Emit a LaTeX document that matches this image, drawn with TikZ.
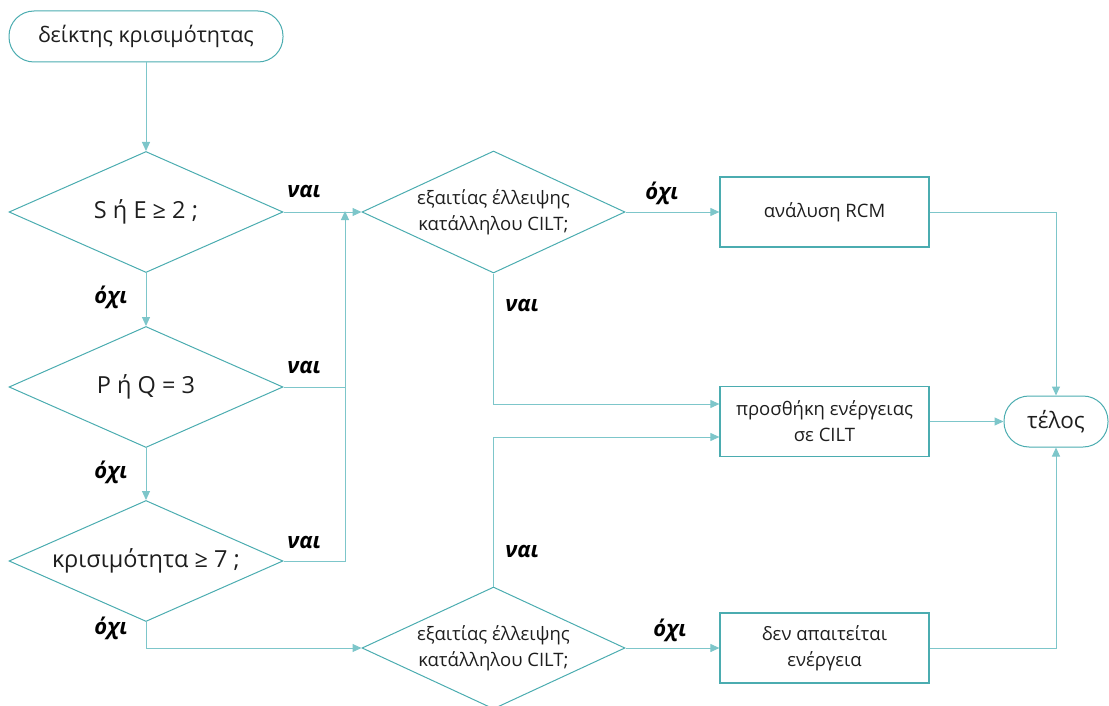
\documentclass[tikz,border=0pt]{standalone}
\usepackage{fontspec}
\setmainfont{Open Sans}
\usetikzlibrary{shapes.geometric,arrows.meta}
\definecolor{shapecol}{RGB}{75,172,176}
\definecolor{linecol}{RGB}{125,198,202}
\definecolor{txtcol}{RGB}{30,30,30}
\begin{document}
\begin{tikzpicture}[x=1pt,y=-1pt,
  every node/.style={text=txtcol},
  term/.style={draw=shapecol, line width=1pt, rectangle, rounded corners=25pt, inner sep=0pt},
  dia/.style={draw=shapecol, line width=1pt, diamond, inner sep=0pt},
  proc/.style={draw=shapecol, line width=1.2pt, rectangle, inner sep=0pt, minimum width=209pt, minimum height=70pt, align=center, font=\fontsize{18.5}{26}\selectfont},
  inner/.style={align=center},
  big/.style={font=\fontsize{23.5}{28}\selectfont},
  conn/.style={draw=linecol, line width=1pt},
  arr/.style={conn, -{Triangle[length=9pt,width=8pt]}},
  ans/.style={font=\fontsize{22}{26}\selectfont\bfseries\itshape, text=black}
]
\useasboundingbox (0,0) rectangle (1109,706);

% start / end terminators
\node[term, minimum width=274pt, minimum height=51pt, font=\fontsize{21.5}{26}\selectfont] (start) at (146,36.5) {δείκτης κρισιμότητας};
\node[term, minimum width=104pt, minimum height=51pt, font=\fontsize{22.5}{26}\selectfont] (end) at (1056,421.5) {τέλος};

% decisions on the left
\node[dia, minimum width=274pt, minimum height=121pt,
  label={[big]center:S ή E ≥ 2 ;}] (d1) at (146,212) {};
\node[dia, minimum width=274pt, minimum height=121pt,
  label={[big]center:P ή Q = 3}] (d2) at (146,387) {};
\node[dia, minimum width=274pt, minimum height=121pt,
  label={[big]center:κρισιμότητα ≥ 7 ;}] (d3) at (146,561) {};

% decisions on the CILT question
\node[dia, minimum width=263pt, minimum height=122pt,
  label={[inner, font=\fontsize{18.5}{26}\selectfont]center:εξαιτίας έλλειψης\\κατάλληλου CILT;}] (d4) at (493.5,212) {};
\node[dia, minimum width=263pt, minimum height=122pt,
  label={[inner, font=\fontsize{18.5}{26}\selectfont]center:εξαιτίας έλλειψης\\κατάλληλου CILT;}] (d5) at (493.5,648) {};

% actions
\node[proc] (rcm) at (824.5,212) {ανάλυση RCM};
\node[proc] (add) at (824.5,421.5) {προσθήκη ενέργειας\\σε CILT};
\node[proc] (none) at (824.5,648) {δεν απαιτείται\\ενέργεια};

% junction points
\coordinate (jx) at (345,212);
\coordinate (j2) at (345,387);
\coordinate (j3) at (345,561);
\coordinate (a1) at (493.5,404);
\coordinate (a2) at (493.5,437);

% connectors
\draw[arr] (start.south) -- (d1.north);
\draw[arr] (d1.east) -- (d4.west);
\draw[arr] (d1.south) -- (d2.north);
\draw[arr] (d2.south) -- (d3.north);
\draw[arr] (d2.east) -- (j2) -- ([yshift=1pt]jx);
\draw[conn] (d3.east) -- (j3) -- (j2);
\draw[arr] (d3.south) |- (d5.west);
\draw[arr] (d4.east) -- (rcm.west);
\draw[arr] (d4.south) -- (a1) -- (add.west |- a1);
\draw[arr] (d5.north) -- (a2) -- (add.west |- a2);
\draw[arr] (d5.east) -- (none.west);
\draw[arr] (rcm.east) -| (end.north);
\draw[arr] (add.east) -- (end.west);
\draw[arr] (none.east) -| (end.south);

% answer labels
\node[ans] (l1) at (304,191) {ναι};
\node[ans] (l2) at (111,297) {όχι};
\node[ans] (l3) at (304,367) {ναι};
\node[ans] (l4) at (111,472) {όχι};
\node[ans] (l5) at (304,542) {ναι};
\node[ans] (l6) at (111,628) {όχι};
\node[ans] (l7) at (662,193) {όχι};
\node[ans] (l8) at (522,305) {ναι};
\node[ans] (l9) at (522,551) {ναι};
\node[ans] (l10) at (670,630) {όχι};
\end{tikzpicture}
\end{document}
